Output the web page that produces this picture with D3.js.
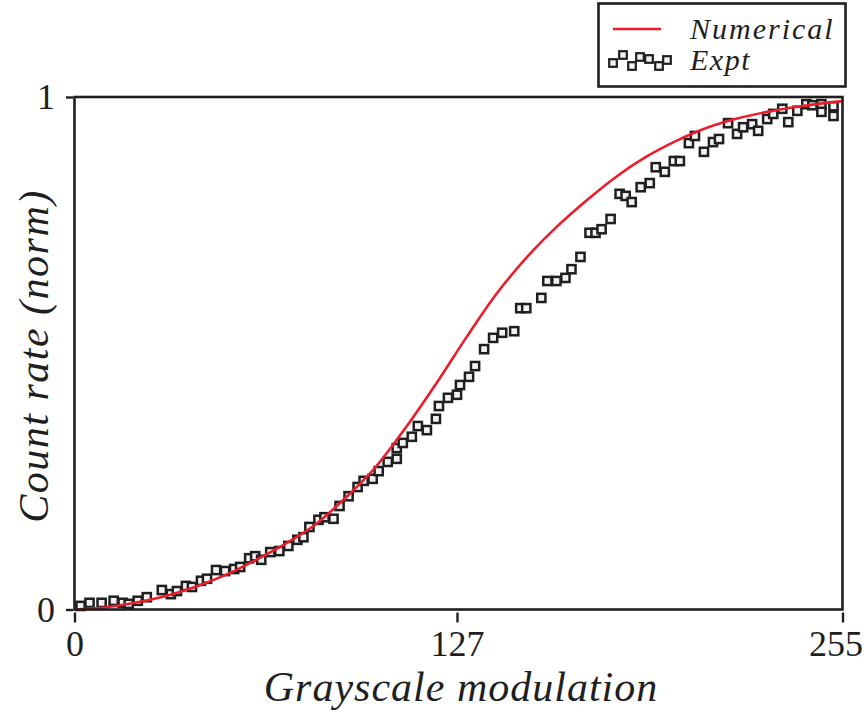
<!DOCTYPE html>
<html>
<head>
<meta charset="utf-8">
<script src="https://cdn.jsdelivr.net/npm/d3@7"></script>
<style>
  html, body { margin: 0; padding: 0; background: #fff; }
  svg { display: block; }
</style>
</head>
<body>
<svg id="chart" width="867" height="717"></svg>
<script>
// Numerical model: normalised count rate vs grayscale level
const numGray = [0, 10, 20, 30, 40, 50, 60, 70, 80, 90, 100, 110, 120, 130, 140, 150, 160, 170, 180, 190, 200, 210, 220, 230, 240, 255];
const numRate = [0, 0.004, 0.013, 0.026, 0.044, 0.067, 0.096, 0.128, 0.166, 0.218, 0.278, 0.355, 0.440, 0.530, 0.615, 0.686, 0.746, 0.798, 0.845, 0.884, 0.915, 0.940, 0.958, 0.971, 0.981, 0.992];

// Experimental measurements
const exptGray = [2, 5, 9, 13, 16, 18, 21, 24, 29, 32, 34, 37, 39, 42, 44, 47, 50, 53, 55, 58,
  60, 62, 65, 68, 71, 74, 76, 78, 81, 83, 86, 88, 91, 94, 96, 99, 101, 104, 107, 107,
  109, 112, 114, 117, 120, 121, 124, 127, 128, 131, 133, 136, 139, 142, 146, 148, 150, 155, 157, 160,
  163, 165, 168, 171, 173, 175, 178, 181, 183, 185, 188, 191, 193, 196, 199, 201, 204, 206, 209, 212,
  214, 217, 220, 222, 225, 227, 230, 232, 235, 237, 240, 243, 245, 248, 248, 252, 252];
const exptRate = [0.007, 0.013, 0.013, 0.017, 0.013, 0.011, 0.017, 0.024, 0.038, 0.030, 0.036, 0.046, 0.044, 0.056, 0.060, 0.077, 0.075, 0.079, 0.083, 0.100,
  0.104, 0.097, 0.112, 0.114, 0.124, 0.136, 0.141, 0.161, 0.175, 0.180, 0.177, 0.202, 0.221, 0.239, 0.251, 0.255, 0.270, 0.288, 0.294, 0.315,
  0.325, 0.337, 0.358, 0.350, 0.372, 0.397, 0.413, 0.419, 0.438, 0.454, 0.475, 0.508, 0.530, 0.540, 0.543, 0.588, 0.588, 0.608, 0.641, 0.641,
  0.647, 0.664, 0.688, 0.735, 0.735, 0.742, 0.762, 0.811, 0.807, 0.795, 0.824, 0.832, 0.863, 0.854, 0.875, 0.875, 0.910, 0.924, 0.893, 0.912,
  0.918, 0.949, 0.928, 0.941, 0.947, 0.934, 0.957, 0.967, 0.977, 0.951, 0.973, 0.986, 0.984, 0.986, 0.971, 0.982, 0.963];

const xTicks = [0, 127, 255];
const yTicks = [0, 1];
const xTitle = "Grayscale modulation";
const yTitle = "Count rate (norm)";
const seriesNames = ["Numerical", "Expt"];

const RED = "#ec1c2a";
const INK = "#1f1f1f";
const SERIF = "'Liberation Serif', serif";

const svg = d3.select("#chart");

const plotL = 74.5, plotR = 842.5, plotT = 97, plotB = 609.5;
const x = d3.scaleLinear().domain([0, 255]).range([plotL, plotR]);
const y = d3.scaleLinear().domain([0, 1]).range([plotB, plotT]);

// experimental squares
const sq = 8.2;
svg.append("g")
  .selectAll("rect")
  .data(exptGray.map((g, i) => [g, exptRate[i]]))
  .join("rect")
  .attr("x", d => x(d[0]) - sq / 2)
  .attr("y", d => y(d[1]) - sq / 2)
  .attr("width", sq)
  .attr("height", sq)
  .attr("fill", "#f3f3f3")
  .attr("stroke", INK)
  .attr("stroke-width", 2.5);

// numerical curve
const line = d3.line()
  .x(d => x(d[0]))
  .y(d => y(d[1]))
  .curve(d3.curveMonotoneX);
svg.append("path")
  .datum(numGray.map((g, i) => [g, numRate[i]]))
  .attr("d", line)
  .attr("fill", "none")
  .attr("stroke", RED)
  .attr("stroke-width", 2.6);

// frame
svg.append("rect")
  .attr("x", plotL).attr("y", plotT)
  .attr("width", plotR - plotL).attr("height", plotB - plotT)
  .attr("fill", "none")
  .attr("stroke", INK)
  .attr("stroke-width", 2.6);

// x axis
const xAxis = svg.append("g")
  .attr("transform", `translate(0,${plotB + 3})`)
  .call(d3.axisBottom(x).tickValues(xTicks).tickFormat(d3.format("d")).tickSize(10).tickPadding(8));
xAxis.select(".domain").remove();
xAxis.selectAll(".tick line").attr("stroke", INK).attr("stroke-width", 2.4);
xAxis.selectAll(".tick text")
  .style("font-family", SERIF)
  .style("font-size", "36px")
  .attr("fill", INK);
// keep the last label inside the page
xAxis.selectAll(".tick text")
  .filter(d => d === 255)
  .attr("text-anchor", "end")
  .attr("x", 20);

// y axis
const yAxis = svg.append("g")
  .attr("transform", `translate(${plotL - 1.5},0)`)
  .call(d3.axisLeft(y).tickValues(yTicks).tickFormat(d3.format("d")).tickSize(7).tickPadding(11));
yAxis.select(".domain").remove();
yAxis.selectAll(".tick line").attr("stroke", INK).attr("stroke-width", 2.4);
yAxis.selectAll(".tick text")
  .style("font-family", SERIF)
  .style("font-size", "36px")
  .attr("fill", INK);

// axis titles
svg.append("text")
  .attr("x", 461)
  .attr("y", 701)
  .attr("text-anchor", "middle")
  .style("font-family", SERIF)
  .style("font-style", "italic")
  .style("font-size", "42px")
  .style("letter-spacing", "1px")
  .attr("fill", INK)
  .text(xTitle);

svg.append("text")
  .attr("transform", "translate(48,356) rotate(-90)")
  .attr("text-anchor", "middle")
  .style("font-family", SERIF)
  .style("font-style", "italic")
  .style("font-size", "42px")
  .style("letter-spacing", "1.5px")
  .attr("fill", INK)
  .text(yTitle);

// legend
const lg = svg.append("g");
lg.append("rect")
  .attr("x", 598.5).attr("y", 3.5)
  .attr("width", 247).attr("height", 83)
  .attr("fill", "#fff")
  .attr("stroke", INK)
  .attr("stroke-width", 2.6);
lg.append("line")
  .attr("x1", 613).attr("x2", 661)
  .attr("y1", 29).attr("y2", 29)
  .attr("stroke", RED)
  .attr("stroke-width", 2.6);
// small zig-zag of squares standing for the measured series
const iconDx = [613, 623, 632, 640, 649, 659, 667];
const iconDy = [63, 55, 66, 57, 59, 66, 60];
lg.selectAll("rect.icon")
  .data(iconDx.map((d, i) => [d, iconDy[i]]))
  .join("rect")
  .attr("class", "icon")
  .attr("x", d => d[0] - 3.8)
  .attr("y", d => d[1] - 3.8)
  .attr("width", 7.6).attr("height", 7.6)
  .attr("fill", "#f3f3f3")
  .attr("stroke", INK)
  .attr("stroke-width", 2.2);
lg.append("text")
  .attr("x", 690).attr("y", 39)
  .style("font-family", SERIF)
  .style("font-style", "italic")
  .style("font-size", "30px")
  .style("letter-spacing", "2px")
  .attr("fill", INK)
  .text(seriesNames[0]);
lg.append("text")
  .attr("x", 690).attr("y", 70)
  .style("font-family", SERIF)
  .style("font-style", "italic")
  .style("font-size", "30px")
  .style("letter-spacing", "1.5px")
  .attr("fill", INK)
  .text(seriesNames[1]);
</script>
</body>
</html>
